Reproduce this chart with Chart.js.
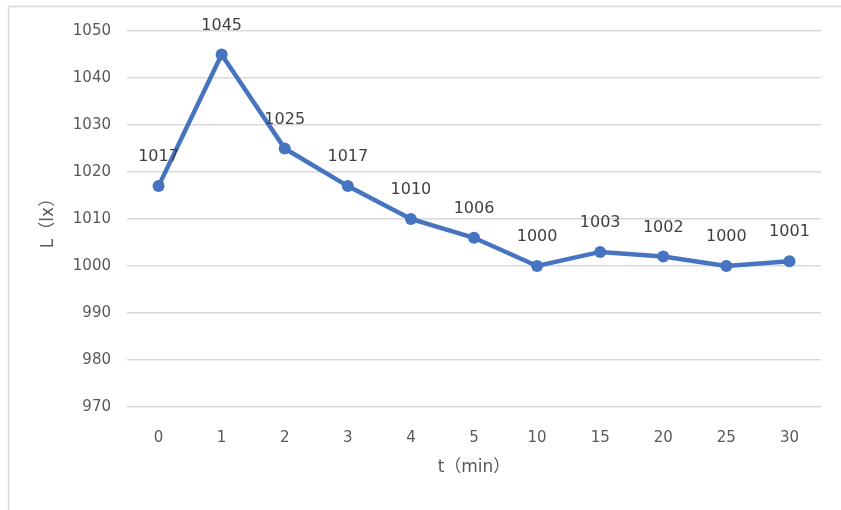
<!DOCTYPE html>
<html>
<head>
<meta charset="utf-8">
<script src="https://cdn.jsdelivr.net/npm/chart.js@4"></script>
<style>
  html, body { margin: 0; padding: 0; background: #fff; }
  #wrap { width: 841px; height: 510px; position: relative; }
</style>
</head>
<body>
<div id="wrap"><canvas id="c" width="841" height="510"></canvas></div>
<script>
// Illuminance over time
const timeLabels = ['0', '1', '2', '3', '4', '5', '10', '15', '20', '25', '30'];
const luxValues = [1017, 1045, 1025, 1017, 1010, 1006, 1000, 1003, 1002, 1000, 1001];
const yMin = 970;
const yMax = 1050;
const yStep = 10;

const FONT = '"DejaVu Sans", "Noto Sans CJK SC", sans-serif';

// Thin frame along the top and left edge of the chart
const framePlugin = {
  id: 'frame',
  beforeDraw(chart) {
    const ctx = chart.ctx;
    ctx.save();
    ctx.strokeStyle = '#d9d9d9';
    ctx.lineWidth = 1.5;
    ctx.beginPath();
    ctx.moveTo(8.5, 510);
    ctx.lineTo(8.5, 6.5);
    ctx.lineTo(841, 6.5);
    ctx.stroke();
    ctx.restore();
  }
};

// Value labels above each point
const valueLabelPlugin = {
  id: 'valueLabels',
  afterDatasetsDraw(chart) {
    const ctx = chart.ctx;
    const meta = chart.getDatasetMeta(0);
    const data = chart.data.datasets[0].data;
    ctx.save();
    ctx.font = '16px ' + FONT;
    ctx.fillStyle = '#404040';
    ctx.textAlign = 'center';
    ctx.textBaseline = 'middle';
    meta.data.forEach((pt, i) => {
      ctx.fillText(String(data[i]), pt.x, pt.y - 29);
    });
    ctx.restore();
  }
};

new Chart(document.getElementById('c'), {
  type: 'line',
  data: {
    labels: timeLabels,
    datasets: [{
      data: luxValues,
      borderColor: '#4674c1',
      backgroundColor: '#4674c1',
      borderWidth: 4.5,
      pointRadius: 6,
      pointBorderWidth: 0,
      pointBackgroundColor: '#4674c1',
      tension: 0
    }]
  },
  options: {
    responsive: false,
    animation: false,
    layout: { padding: { top: 31, right: 20, bottom: 0, left: 0 } },
    plugins: {
      legend: { display: false },
      tooltip: { enabled: false }
    },
    scales: {
      x: {
        offset: true,
        grid: { display: false, drawTicks: false },
        border: { display: false },
        ticks: {
          color: '#595959',
          font: { family: FONT, size: 15 },
          padding: 22,
          maxRotation: 0
        },
        title: {
          display: true,
          text: 't（min）',
          color: '#595959',
          font: { family: FONT, size: 17 },
          padding: { top: 0, bottom: 32 }
        },
        afterFit(scale) { scale.height = 103; }
      },
      y: {
        min: yMin,
        max: yMax,
        grid: { color: '#d9d9d9', lineWidth: 1.5, drawTicks: false },
        border: { display: false },
        ticks: {
          stepSize: yStep,
          color: '#595959',
          font: { family: FONT, size: 15 },
          padding: 16,
          callback: (v) => String(v)
        },
        title: {
          display: true,
          text: 'L（lx）',
          color: '#595959',
          font: { family: FONT, size: 17 },
          padding: { top: 38, bottom: 0 }
        },
        afterFit(scale) { scale.width = 127; }
      }
    }
  },
  plugins: [framePlugin, valueLabelPlugin]
});
</script>
</body>
</html>
